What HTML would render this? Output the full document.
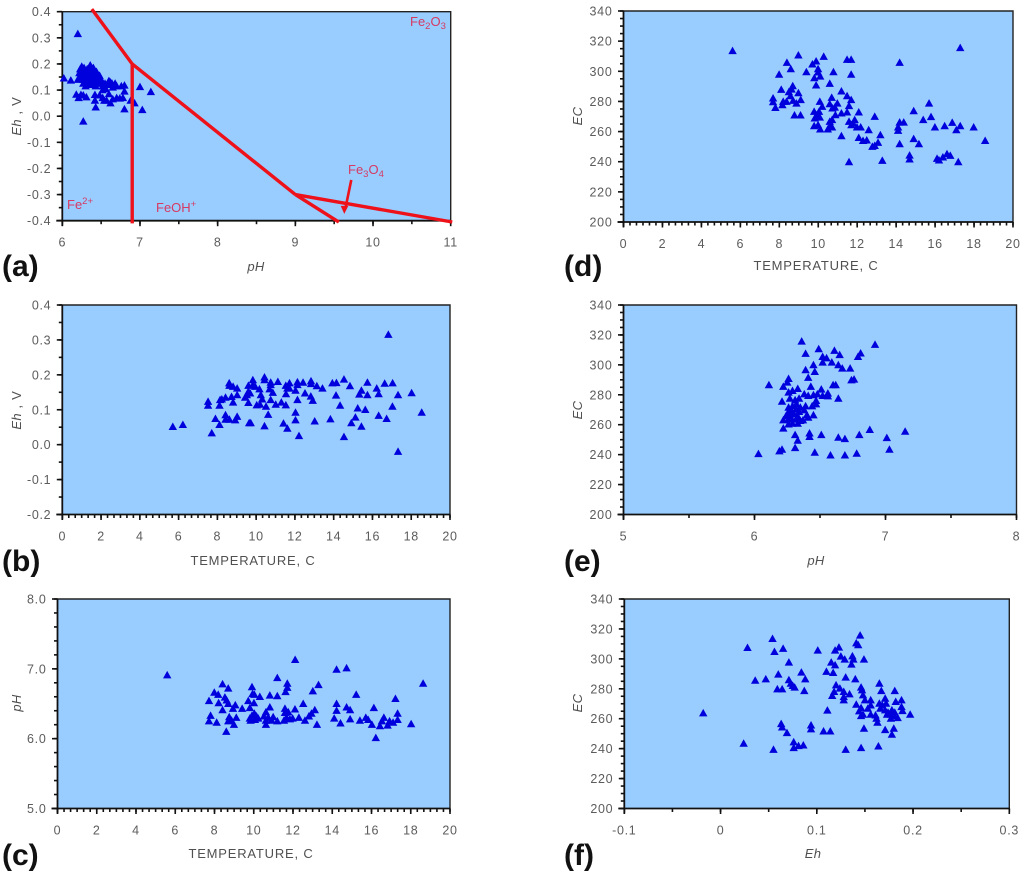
<!DOCTYPE html>
<html lang="en">
<head>
<meta charset="utf-8">
<title>Water chemistry scatter plots</title>
<style>
html,body{margin:0;padding:0;background:#fff;width:1024px;height:877px;overflow:hidden}
svg{display:block;font-family:"Liberation Sans",sans-serif}
.tick{font-size:12.5px;fill:#5c5c5c;letter-spacing:.7px}
.title{font-size:13px;fill:#505050;letter-spacing:.8px}
.ital{font-style:italic;letter-spacing:.3px}
.plabel{font-size:30px;font-weight:bold;fill:#111}
.species{font-size:13px;fill:#d63a62}
.sub{font-size:9.5px}
</style>
</head>
<body>
<svg id="figure" xmlns="http://www.w3.org/2000/svg" width="1024" height="877" viewBox="0 0 1024 877">
  <g id="plots"></g>

  <text class="plabel" x="2" y="276">(a)</text>
  <text class="plabel" x="2" y="571">(b)</text>
  <text class="plabel" x="2" y="865">(c)</text>
  <text class="plabel" x="564" y="276">(d)</text>
  <text class="plabel" x="564" y="571">(e)</text>
  <text class="plabel" x="564" y="865">(f)</text>

  <text class="title ital" text-anchor="middle" x="256" y="271">pH</text>
  <text class="title" text-anchor="middle" x="253" y="565">TEMPERATURE, C</text>
  <text class="title" text-anchor="middle" x="251" y="858">TEMPERATURE, C</text>
  <text class="title" text-anchor="middle" x="816" y="270">TEMPERATURE, C</text>
  <text class="title ital" text-anchor="middle" x="816" y="565">pH</text>
  <text class="title ital" text-anchor="middle" x="813" y="858">Eh</text>

  <text class="title" text-anchor="middle" transform="translate(21 116) rotate(-90)"><tspan class="ital">Eh</tspan> , V</text>
  <text class="title" text-anchor="middle" transform="translate(21 410) rotate(-90)"><tspan class="ital">Eh</tspan> , V</text>
  <text class="title ital" text-anchor="middle" transform="translate(21 703) rotate(-90)">pH</text>
  <text class="title ital" text-anchor="middle" transform="translate(582 116) rotate(-90)">EC</text>
  <text class="title ital" text-anchor="middle" transform="translate(582 410) rotate(-90)">EC</text>
  <text class="title ital" text-anchor="middle" transform="translate(582 703) rotate(-90)">EC</text>

  <text class="species" x="410" y="26">Fe<tspan class="sub" dy="3">2</tspan><tspan dy="-3">O</tspan><tspan class="sub" dy="3">3</tspan></text>
  <text class="species" x="348" y="174">Fe<tspan class="sub" dy="3">3</tspan><tspan dy="-3">O</tspan><tspan class="sub" dy="3">4</tspan></text>
  <text class="species" x="67" y="209">Fe<tspan class="sub" dy="-5">2+</tspan></text>
  <text class="species" x="156" y="212">FeOH<tspan class="sub" dy="-5">+</tspan></text>
</svg>
<script>
/* Panel (a): pH vs Eh */
const pHA = [6.2,6.02,6.11,6.27,6.18,6.21,6.24,6.27,6.31,6.42,6.42,6.43,6.48,6.52,6.54,6.57,6.6,6.62,6.65,6.7,6.74,6.78,6.8,6.8,6.88,6.93,7.0,7.03,7.14,6.52,6.6,
  6.2,6.22,6.22,6.23,6.25,6.25,6.25,6.27,6.27,6.28,6.29,6.3,6.3,6.3,6.32,6.33,6.33,6.34,6.35,6.36,6.36,6.37,6.38,6.38,6.4,6.4,6.41,6.42,6.43,6.44,6.45,6.45,6.46,6.48,6.5,6.5,6.52,6.55,6.58,6.6,6.62,6.64,6.68,6.7,6.76,6.8,6.65,6.56];
const EhA = [0.315,0.145,0.137,-0.02,0.083,0.07,0.082,0.08,0.073,0.082,0.06,0.034,0.08,0.07,0.06,0.06,0.085,0.05,0.065,0.07,0.068,0.07,0.095,0.027,0.06,0.05,0.112,0.024,0.093,0.1,0.122,
  0.14,0.15,0.165,0.18,0.19,0.17,0.155,0.14,0.125,0.185,0.17,0.155,0.14,0.115,0.18,0.165,0.15,0.13,0.12,0.195,0.175,0.16,0.145,0.125,0.185,0.165,0.15,0.135,0.115,0.17,0.155,0.14,0.125,0.155,0.14,0.125,0.115,0.125,0.12,0.135,0.13,0.125,0.125,0.115,0.115,0.118,0.11,0.105];
/* Stability-field boundaries of the Eh-pH diagram, as [pH, Eh] per vertex */
const boundaryPH = [[6.38,6.9],[6.9,6.9],[6.9,9],[9,9.56],[9,11.02]];
const boundaryEh = [[0.41,0.2],[0.2,-0.41],[0.2,-0.3],[-0.3,-0.405],[-0.3,-0.405]];
const arrowPH = [9.72,9.63];
const arrowEh = [-0.244,-0.374];

/* Panel (b): temperature vs Eh */
const tempB = [16.82,5.7,6.22,7.71,7.52,7.52,7.9,8.11,8.42,8.42,8.62,8.92,9.02,8.11,8.14,8.23,8.42,8.73,8.81,9.02,9.02,8.81,8.61,8.62,9.43,9.6,9.6,9.52,9.69,9.6,9.83,9.83,9.95,10.17,10.24,10.31,10.03,10.2,10.51,10.75,11.01,11.3,11.53,10.43,10.43,10.75,10.75,10.69,10.86,11.12,11.53,11.72,11.61,11.72,11.54,12.03,12.13,12.13,12.42,12.83,12.83,13.13,13.42,12.52,12.82,12.13,12.92,12.03,10.62,9.64,9.72,10.43,11.41,11.61,12.03,12.21,13.02,13.83,13.93,14.14,14.53,14.84,14.12,14.33,14.53,14.91,15.12,15.43,15.24,15.63,15.32,15.43,15.74,15.74,16.22,16.32,16.32,16.63,17.04,16.73,17.03,17.32,17.32,18.02,18.54];
const EhB = [0.315,0.051,0.057,0.033,0.123,0.112,0.074,0.057,0.085,0.072,0.072,0.07,0.08,0.112,0.128,0.13,0.135,0.137,0.121,0.142,0.161,0.166,0.176,0.169,0.135,0.12,0.152,0.142,0.147,0.169,0.185,0.171,0.166,0.159,0.142,0.13,0.113,0.115,0.109,0.128,0.115,0.121,0.113,0.193,0.185,0.178,0.171,0.159,0.149,0.18,0.169,0.176,0.161,0.161,0.145,0.155,0.179,0.171,0.178,0.182,0.174,0.168,0.161,0.147,0.138,0.128,0.126,0.092,0.086,0.062,0.062,0.053,0.061,0.046,0.07,0.025,0.067,0.073,0.176,0.177,0.187,0.168,0.141,0.112,0.022,0.062,0.078,0.052,0.104,0.1,0.144,0.155,0.178,0.142,0.161,0.145,0.083,0.175,0.176,0.074,0.109,0.142,-0.02,0.148,0.092];

/* Panel (c): temperature vs pH */
const tempC = [5.59,12.11,14.22,14.73,18.63,11.2,8.41,8.7,7.99,8.19,7.72,8.21,8.53,8.62,8.7,8.41,9.06,8.94,9.41,7.8,7.72,8.11,8.6,8.75,8.7,8.99,9.11,8.87,9.91,9.94,10.03,10.31,9.72,10.01,9.8,10.82,11.2,11.71,11.71,11.62,10.82,10.62,10.52,9.8,9.91,10.03,10.14,10.23,9.84,10.06,10.62,10.74,10.62,10.99,10.91,11.2,11.59,11.59,11.76,12.1,11.54,11.67,11.84,11.98,12.3,12.61,12.81,12.94,13.11,12.52,13.22,13.01,13.3,14.1,14.22,14.22,14.42,14.73,14.91,14.91,15.22,15.41,15.71,15.83,16.02,16.12,16.22,16.43,16.53,16.63,16.82,16.92,17.1,17.22,17.33,17.33,18.02];
const pHC = [6.91,7.13,6.99,7.01,6.79,6.87,6.78,6.72,6.66,6.63,6.54,6.51,6.59,6.55,6.5,6.41,6.48,6.43,6.43,6.33,6.25,6.23,6.1,6.31,6.25,6.2,6.3,6.26,6.74,6.64,6.63,6.6,6.54,6.51,6.44,6.62,6.61,6.79,6.73,6.67,6.45,6.38,6.32,6.29,6.33,6.36,6.32,6.29,6.26,6.27,6.26,6.3,6.2,6.31,6.26,6.25,6.43,6.37,6.38,6.42,6.26,6.3,6.28,6.29,6.3,6.26,6.32,6.36,6.41,6.5,6.2,6.68,6.77,6.29,6.5,6.4,6.22,6.45,6.41,6.28,6.63,6.26,6.3,6.27,6.2,6.44,6.01,6.18,6.25,6.3,6.19,6.25,6.23,6.57,6.36,6.27,6.21];

/* Panel (d): temperature vs EC */
const tempD = [5.6,8.98,10.28,8.39,8.59,7.99,9.7,9.89,9.99,9.99,9.39,9.8,10.1,10.78,11.48,11.69,11.69,10.59,9.89,14.18,17.29,8.1,8.69,8.63,8.49,8.98,8.57,7.68,7.68,7.8,8.2,8.16,8.37,8.71,8.88,9.1,8.78,9.09,10.08,10.2,9.79,10.04,9.82,10.08,9.94,9.79,9.99,10.1,10.49,10.59,10.71,10.59,10.71,10.69,10.59,10.73,10.85,10.98,10.88,11.19,11.19,11.48,11.69,11.58,11.48,12.08,11.58,11.87,11.7,11.79,11.99,12.18,11.19,12.08,12.3,12.49,12.59,13.19,13.07,12.9,12.78,12.9,11.58,13.29,14.18,14.39,14.1,14.1,14.18,14.69,14.69,14.9,15.17,14.9,15.39,15.69,15.79,15.99,16.49,16.88,17.09,17.29,17.98,18.57,16.1,16.2,16.4,16.61,16.78,17.19];
const ecD = [313.5,310.6,309.7,305.7,301.5,297.8,304.6,306.6,301.5,299.3,299.5,295.5,296.6,299.5,307.7,307.7,297.8,291.8,290.7,305.7,315.5,287.8,290.2,288,286.2,285.6,283.6,282.1,279.6,275.8,279.8,277.6,279.8,280.5,278.7,281,270.8,270.8,279.8,276.5,273.2,273.2,268.8,269.4,271,263.7,264.3,261.5,261.5,263.2,262.8,266.6,267.7,282.5,278.3,275.4,276,278.7,271,272.1,286.7,283.6,281,277,272.8,272.8,266.6,267.7,264.3,265.5,262.8,262.8,257,255.9,253.9,254.2,261,257.7,252.6,250.6,250,269.9,239.8,240.7,266.1,266.1,262.8,260.6,251.7,244.2,241.6,255.1,251.7,273.6,267.7,278.7,269.7,262.8,263.7,265.9,261,263.7,262.8,253.9,242,240.9,242.9,245.1,244,239.8];

/* Panel (e): pH vs EC */
const pHE = [6.36,6.92,6.49,6.61,6.39,6.65,6.81,6.79,6.52,6.55,6.52,6.59,6.64,6.67,6.73,6.45,6.39,6.46,6.41,6.26,6.25,6.11,6.22,6.43,6.6,6.62,6.74,6.76,6.51,6.64,6.33,6.29,6.26,6.38,6.41,6.45,6.48,6.52,6.56,6.56,6.21,6.27,6.31,6.34,6.47,6.44,6.47,6.39,6.38,6.4,6.45,6.41,6.26,6.29,6.32,6.35,6.26,6.28,6.32,6.34,6.24,6.27,6.3,6.33,6.22,6.26,6.28,6.32,6.35,6.37,6.26,6.29,6.33,6.22,6.31,6.33,6.42,6.42,6.51,6.64,6.69,6.8,6.88,7.01,7.15,7.03,6.03,6.19,6.21,6.31,6.46,6.58,6.69,6.78];
const ecE = [315.7,313.5,310.6,309.5,307.5,306.6,307.7,305.4,305.4,304.5,301.6,301.6,299.9,297.6,297.6,299.9,296.5,295.4,291.4,290.7,288.3,286.5,285.4,285.4,286.5,286.5,289.8,290.3,283.6,277.5,284,282.7,281.6,280.4,279.3,279.8,280.4,279.3,280.9,279.1,275.5,277.5,276.4,277.5,276,272.4,273.7,272.4,269.7,266.4,266.4,264.8,271.5,272.4,273.7,271.5,268.6,269.7,270.2,268.6,265.7,266.4,267.1,265.7,263,263.5,264.2,263.5,262.6,263,260.3,260.8,260.8,257.5,253.2,249.4,254.3,251.9,253.2,251.4,250.5,253.2,256.6,251.2,255.4,243.4,240.5,242.3,243.4,244.5,241.4,239.6,239.6,240.7];

/* Panel (f): Eh vs EC */
const EhF = [0.054,0.145,0.028,0.065,0.056,0.101,0.141,0.143,0.123,0.119,0.125,0.129,0.137,0.138,0.149,0.136,0.115,0.119,0.071,0.11,0.117,0.084,0.06,0.047,0.036,0.071,0.088,0.073,0.075,0.077,0.059,0.064,0.087,0.13,0.14,0.165,0.12,0.124,0.146,0.147,0.167,0.181,0.118,0.116,0.128,0.134,0.128,0.128,0.148,0.15,0.156,0.188,0.182,0.171,0.141,0.111,0.146,0.144,0.153,0.156,0.165,0.168,0.172,0.166,0.188,0.189,0.197,-0.018,0.146,0.148,0.156,0.161,0.162,0.163,0.171,0.174,0.178,0.181,0.173,0.177,0.18,0.184,0.177,0.149,0.171,0.18,0.178,0.063,0.064,0.069,0.094,0.094,0.107,0.114,0.076,0.076,0.081,0.086,0.024,0.055,0.13,0.146,0.164];
const ecF = [313.4,315.7,307.4,306.8,304.7,305.6,310.5,309.2,307.6,305.6,301.6,299.6,301.8,299.6,299.6,296.3,297.6,295.8,297.6,291.4,290.7,290.9,289.6,286.4,285.5,285.8,286.4,283.5,282,280.9,279.7,279.7,278.6,287.6,286.4,283.5,282.4,280.2,280.9,279.1,278.6,278.6,278,275.3,278,276.4,274.6,272.4,275.7,272.4,272.4,272.4,271.3,273.5,269.5,265.5,267.2,265,266.8,269,270.1,269,270.1,266.8,267.9,265.2,262.8,263.7,261.9,262.8,262.8,262.3,260.1,257.4,265.7,264.1,265.7,264.1,262.8,262.8,261.9,260.5,260.1,253.4,252.5,253.4,249.4,256.5,254.3,250.5,255.6,253,251.6,251.6,244.3,240.5,241.8,242.2,243.4,239.3,239.3,240.5,241.6];

/* Tick values and their printed labels */
const ticksEh = [-0.4,-0.3,-0.2,-0.1,0,0.1,0.2,0.3,0.4];
const ticksEhLabels = ["-0.4","-0.3","-0.2","-0.1","0.0","0.1","0.2","0.3","0.4"];
const ticksEhShort = [-0.2,-0.1,0,0.1,0.2,0.3,0.4];
const ticksEhShortLabels = ["-0.2","-0.1","0.0","0.1","0.2","0.3","0.4"];
const ticksPHwide = [6,7,8,9,10,11];
const ticksPHwideLabels = ["6","7","8","9","10","11"];
const ticksTemp = [0,2,4,6,8,10,12,14,16,18,20];
const ticksTempLabels = ["0","2","4","6","8","10","12","14","16","18","20"];
const ticksPHy = [5,6,7,8];
const ticksPHyLabels = ["5.0","6.0","7.0","8.0"];
const ticksEC = [200,220,240,260,280,300,320,340];
const ticksECLabels = ["200","220","240","260","280","300","320","340"];
const ticksPHx = [5,6,7,8];
const ticksPHxLabels = ["5","6","7","8"];
const ticksEhX = [-0.1,0,0.1,0.2,0.3];
const ticksEhXLabels = ["-0.1","0","0.1","0.2","0.3"];

const SVG_NS = "http://www.w3.org/2000/svg";
const plots = document.getElementById("plots");

function svgEl(tag, attrs, parent) {
  const el = document.createElementNS(SVG_NS, tag);
  for (const k in attrs) el.setAttribute(k, attrs[k]);
  parent.appendChild(el);
  return el;
}
function linScale(d0, d1, r0, r1) {
  return function (v) { return r0 + (v - d0) * (r1 - r0) / (d1 - d0); };
}

function drawPanel(p) {
  const g = svgEl("g", {}, plots);
  
  
  const sx = linScale(p.xMin, p.xMax, p.left, p.right);
  const sy = linScale(p.yMin, p.yMax, p.bottom, p.top);

  const bg = svgEl("rect", {x: p.left, y: p.top, width: p.right - p.left, height: p.bottom - p.top, fill: "#99ccff"}, g);
  
  

  const frame = svgEl("path", {d: "M" + p.left + " " + p.top + "H" + p.right + "V" + p.bottom, fill: "none", stroke: "#222", "stroke-width": 1.4}, g);
  
  

  const xAxis = svgEl("g", {}, g);
  
  
  const yAxis = svgEl("g", {}, g);
  
  

  svgEl("line", {x1: p.left - 6, x2: p.right, y1: p.bottom, y2: p.bottom, stroke: "#111", "stroke-width": 1.8}, xAxis);
  svgEl("line", {x1: p.left, x2: p.left, y1: p.top, y2: p.bottom + 5, stroke: "#111", "stroke-width": 1.8}, yAxis);

  const nx = Math.round((p.xMax - p.xMin) / p.xMinor);
  for (let i = 0; i <= nx; i++) {
    const x = sx(p.xMin + i * p.xMinor);
    svgEl("line", {x1: x, x2: x, y1: p.bottom, y2: p.bottom + 3.5, stroke: "#111", "stroke-width": 1.6}, xAxis);
  }
  const ny = Math.round((p.yMax - p.yMin) / p.yMinor);
  for (let i = 0; i <= ny; i++) {
    const y = sy(p.yMin + i * p.yMinor);
    svgEl("line", {x1: p.left - 3.5, x2: p.left, y1: y, y2: y, stroke: "#111", "stroke-width": 1.6}, yAxis);
  }
  p.xTicks.forEach(function (v, i) {
    const x = sx(v);
    svgEl("line", {x1: x, x2: x, y1: p.bottom, y2: p.bottom + 5.5, stroke: "#111", "stroke-width": 1.6}, xAxis);
    const t = svgEl("text", {x: x, y: p.bottom + 26, "text-anchor": "middle", "class": "tick"}, xAxis);
    
    
    t.textContent = p.xLabels[i];
  });
  p.yTicks.forEach(function (v, i) {
    const y = sy(v);
    svgEl("line", {x1: p.left - 5.5, x2: p.left, y1: y, y2: y, stroke: "#111", "stroke-width": 1.6}, yAxis);
    const t = svgEl("text", {x: p.left - 11, y: y + 4.5, "text-anchor": "end", "class": "tick"}, yAxis);
    
    
    t.textContent = p.yLabels[i];
  });

  const marks = svgEl("g", {fill: "#0000dc"}, g);
  
  
  const count = Math.min(p.xs.length, p.ys.length);
  for (let i = 0; i < count; i++) {
    const cx = sx(p.xs[i]);
    const cy = sy(p.ys[i]);
    const m = svgEl("path", {d: "M" + cx + " " + (cy - 4.3) + "L" + (cx + 4.2) + " " + (cy + 3.2) + "H" + (cx - 4.2) + "Z"}, marks);
    
    
  }
  return {g: g, sx: sx, sy: sy};
}

drawPanel({id: "a", left: 62.3, right: 450.7, top: 11.7, bottom: 220.7, xMin: 6, xMax: 11, yMin: -0.4, yMax: 0.4, xMinor: 0.5, yMinor: 0.05, xTicks: ticksPHwide, xLabels: ticksPHwideLabels, yTicks: ticksEh, yLabels: ticksEhLabels, xs: pHA, ys: EhA});
const panelA = {sx: linScale(6, 11, 62.3, 450.7), sy: linScale(-0.4, 0.4, 220.7, 11.7)};
drawPanel({id: "b", left: 62.3, right: 450, top: 305, bottom: 514.5, xMin: 0, xMax: 20, yMin: -0.2, yMax: 0.4, xMinor: 1/3, yMinor: 0.05, xTicks: ticksTemp, xLabels: ticksTempLabels, yTicks: ticksEhShort, yLabels: ticksEhShortLabels, xs: tempB, ys: EhB});
drawPanel({id: "c", left: 57.5, right: 450, top: 599, bottom: 808.5, xMin: 0, xMax: 20, yMin: 5, yMax: 8, xMinor: 1/3, yMinor: 0.2, xTicks: ticksTemp, xLabels: ticksTempLabels, yTicks: ticksPHy, yLabels: ticksPHyLabels, xs: tempC, ys: pHC});
drawPanel({id: "d", left: 623.5, right: 1013, top: 11, bottom: 222, xMin: 0, xMax: 20, yMin: 200, yMax: 340, xMinor: 1/3, yMinor: 5, xTicks: ticksTemp, xLabels: ticksTempLabels, yTicks: ticksEC, yLabels: ticksECLabels, xs: tempD, ys: ecD});
drawPanel({id: "e", left: 623.5, right: 1016.5, top: 305, bottom: 514.5, xMin: 5, xMax: 8, yMin: 200, yMax: 340, xMinor: 0.5, yMinor: 5, xTicks: ticksPHx, xLabels: ticksPHxLabels, yTicks: ticksEC, yLabels: ticksECLabels, xs: pHE, ys: ecE});
drawPanel({id: "f", left: 624.3, right: 1009.3, top: 599, bottom: 808.5, xMin: -0.1, xMax: 0.3, yMin: 200, yMax: 340, xMinor: 0.05, yMinor: 5, xTicks: ticksEhX, xLabels: ticksEhXLabels, yTicks: ticksEC, yLabels: ticksECLabels, xs: EhF, ys: ecF});

/* Red stability-field boundaries on panel (a) */
const redGroup = svgEl("g", {stroke: "#ee1119", "stroke-width": 3.4, fill: "none", "stroke-linecap": "butt"}, plots);


boundaryPH.forEach(function (seg, i) {
  const l = svgEl("line", {x1: panelA.sx(seg[0]), y1: panelA.sy(boundaryEh[i][0]), x2: panelA.sx(seg[1]), y2: panelA.sy(boundaryEh[i][1])}, redGroup);
  
  
});
const ax0 = panelA.sx(arrowPH[0]), ay0 = panelA.sy(arrowEh[0]);
const ax1 = panelA.sx(arrowPH[1]), ay1 = panelA.sy(arrowEh[1]);
const arrowLine = svgEl("line", {x1: ax0, y1: ay0, x2: ax1 + (ax0 - ax1) * 0.15, y2: ay1 + (ay0 - ay1) * 0.15, "stroke-width": 2.6}, redGroup);


const arrowHead = svgEl("path", {d: "M" + ax1 + " " + ay1 + "l-3.6 -8h7.6Z", fill: "#ee1119", stroke: "none"}, redGroup);


</script>
</body>
</html>
